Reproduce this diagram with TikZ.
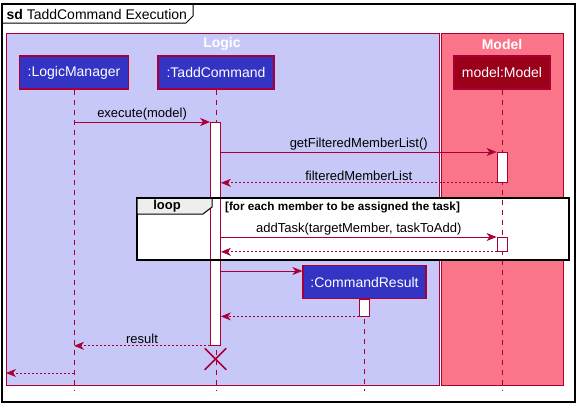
\documentclass[tikz,border=0pt]{standalone}
\usepackage{fontspec}
\setmainfont{Liberation Sans}
\usetikzlibrary{positioning,arrows.meta,shapes.misc}
\definecolor{crimson}{HTML}{A80036}
\definecolor{logicbg}{HTML}{C8C8F8}
\definecolor{modelbg}{HTML}{FA7587}
\definecolor{partblue}{HTML}{3333C4}
\definecolor{modeldark}{HTML}{9B0019}
\definecolor{tabgray}{HTML}{EEEEEE}

\begin{document}
\begin{tikzpicture}[x=1pt, y=-1pt,
    part/.style={draw=crimson, fill=partblue, text=white, line width=1.2,
        font=\fontsize{14}{16}\selectfont, minimum height=33, inner sep=0},
    pkg/.style={text=white, font=\fontsize{14}{16}\selectfont\bfseries},
    life/.style={draw=crimson, line width=0.8, dash pattern=on 5 off 5},
    act/.style={draw=crimson, fill=white, line width=0.8, minimum width=10, inner sep=0},
    msg/.style={draw=crimson, line width=0.8, -{Stealth[length=10,width=8,inset=3]}},
    ret/.style={msg, dash pattern=on 2 off 2},
    lbl/.style={font=\fontsize{13}{15}\selectfont, inner sep=1.5}
]
    \useasboundingbox (0,0) rectangle (580,407);
    % Frame
    \draw[line width=1.5] (2,4) rectangle (575,402);
    \draw[line width=1] (2,23) -- (186,23) -- (193,16) -- (193,4);
    \node[anchor=west, font=\fontsize{14}{16}\selectfont] (title) at (3,14) {\textbf{sd} TaddCommand Execution};
    % Boxes
    \draw[crimson, fill=logicbg, line width=1] (6,33) rectangle (439,385);
    \draw[crimson, fill=modelbg, line width=1] (441,33) rectangle (563,385);
    \node[pkg] (logic) at (222,44) {Logic};
    \node[pkg] (model) at (502,44) {Model};
    \fill[white] (137,198) rectangle (569,260);
    % Participants
    \node[part, minimum width=109] (lm) at (74,72.5) {:LogicManager};
    \node[part, minimum width=116] (tc) at (216,72.5) {:TaddCommand};
    \node[part, minimum width=96, fill=modeldark] (mm) at (502,72.5) {model:Model};
    \node[part, minimum width=123] (cr) at (364.5,282) {:CommandResult};
    % Lifelines
    \coordinate (lmend) at (74,391);
    \coordinate (tcend) at (216,391);
    \coordinate (mmend) at (502,391);
    \coordinate (crend) at (364.5,391);
    \draw[life] (lm) -- (lmend);
    \draw[life] (tc) -- (tcend);
    \draw[life] (mm) -- (mmend);
    \draw[life] (cr) -- (crend);
    % Activations
    \node[act, minimum height=223, anchor=north] (tcact) at (215.5,122) {};
    \node[act, minimum height=30, anchor=north] (mmact1) at (502,152) {};
    \node[act, minimum height=14, anchor=north] (mmact2) at (502,237) {};
    \node[act, minimum height=16.5, below=0pt of cr] (cract) {};
    % Messages
    \coordinate (lmcall) at (74,122);
    \draw[msg] (lmcall) -- (tcact.north west) node[lbl, midway, above] {execute(model)};
    \draw[msg] (tcact.east |- mmact1.north) -- (mmact1.north west) node[lbl, midway, above] {getFilteredMemberList()};
    \draw[ret] (mmact1.south west) -- (tcact.east |- mmact1.south) node[lbl, midway, above] {filteredMemberList};
    \draw[msg] (tcact.east |- mmact2.north) -- (mmact2.north west) node[lbl, midway, above] {addTask(targetMember, taskToAdd)};
    \draw[ret] (mmact2.south west) -- (tcact.east |- mmact2.south);
    \coordinate (tcnew) at (220.5,271);
    \draw[msg] (tcnew) -- (tcnew -| cr.west);
    \draw[ret] (cract.south west) -- (tcact.east |- cract.south);
    \draw[ret] (tcact.south west) -- (tcact.south west -| lm) node[lbl, midway, above] {result};
    \node[cross out, draw=crimson, line width=1.5, minimum size=20, inner sep=0] (tcx) at (215.5,359) {};
    \coordinate (lmret) at (74,373);
    \coordinate (logicw) at (6,373);
    \draw[ret] (lmret) -- (logicw);
    % Loop
    \draw[line width=2.2] (137,198) rectangle (569,260);
    \draw[fill=tabgray, line width=1] (137,198) -- (212,198) -- (212,207) -- (203,214) -- (137,214) -- cycle;
    \draw[line width=2.2] (137,198) -- (569,198);
    \node[font=\fontsize{13}{15}\selectfont\bfseries] (loop) at (167,206) {loop};
    \node[anchor=west, inner sep=0, font=\fontsize{11.7}{14}\selectfont\bfseries] (guard) at (225,207) {[for each member to be assigned the task]};
\end{tikzpicture}
\end{document}
